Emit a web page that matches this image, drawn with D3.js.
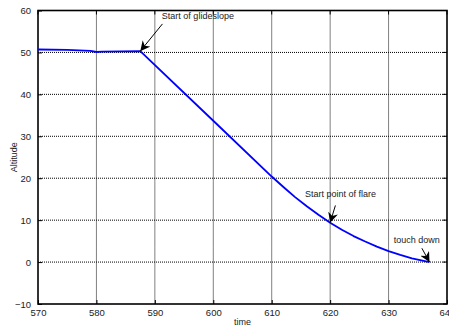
<!DOCTYPE html>
<html>
<head>
<meta charset="utf-8">
<script src="https://cdn.jsdelivr.net/npm/d3@7"></script>
<style>
  html, body { margin: 0; padding: 0; background: #fff; }
  svg { display: block; font-family: Arial, "Liberation Sans", Helvetica, sans-serif; }
</style>
</head>
<body>
<svg id="chart" width="449" height="328"></svg>
<script>
// Altitude profile of the landing: level flight, glideslope, then flare to touch down
const times     = [570, 575, 579, 580, 581, 587.5, 600, 610, 612, 614, 616, 618, 620, 622, 624, 626, 628, 630, 632, 634, 636, 637];
const altitudes = [50.7, 50.6, 50.35, 50.1, 50.2, 50.3, 33.7, 20.4, 17.9, 15.5, 13.3, 11.3, 9.4, 7.7, 6.2, 4.9, 3.7, 2.6, 1.7, 0.9, 0.3, 0.0];

const xTicks = [570, 580, 590, 600, 610, 620, 630, 640];
const yTicks = [-10, 0, 10, 20, 30, 40, 50, 60];

// Notes: label text, label anchor (time, altitude), arrow tail and tip in data units
const noteText  = ["Start of glideslope", "Start point of flare", "touch down"];
const noteLabel = [[591.2, 58.0], [615.7, 15.5], [630.9, 4.5]];
const noteTail  = [[591.3, 56.8], [620.9, 13.5], [635.7, 3.3]];
const noteTip   = [[587.5, 50.3], [620.0, 9.4], [637.0, 0.0]];

const svg = d3.select("#chart");
const m = { left: 38, top: 10.5, right: 447, bottom: 304 };

const x = d3.scaleLinear().domain([570, 640]).range([m.left, m.right]);
const y = d3.scaleLinear().domain([-10, 60]).range([m.bottom, m.top]);

// dotted grid
const grid = svg.append("g");
grid.selectAll("line.gx").data(xTicks.slice(1, -1)).join("line")
  .attr("x1", d => x(d)).attr("x2", d => x(d))
  .attr("y1", m.top).attr("y2", m.bottom)
  .attr("stroke", "#000").attr("stroke-width", 1).attr("stroke-dasharray", "1,1");
grid.selectAll("line.gy").data(yTicks.slice(1, -1)).join("line")
  .attr("y1", d => y(d)).attr("y2", d => y(d))
  .attr("x1", m.left).attr("x2", m.right)
  .attr("stroke", "#000").attr("stroke-width", 1).attr("stroke-dasharray", "1,1");

// axes with inward ticks
const xAxis = d3.axisBottom(x).tickValues(xTicks).tickSize(-4).tickPadding(8).tickFormat(d3.format("d"));
const yAxis = d3.axisLeft(y).tickValues(yTicks).tickSize(-4).tickPadding(7).tickFormat(d3.format("d"));

const gx = svg.append("g").attr("transform", `translate(0,${m.bottom})`).call(xAxis);
const gy = svg.append("g").attr("transform", `translate(${m.left},0)`).call(yAxis);
[gx, gy].forEach(g => {
  g.select(".domain").remove();
  g.selectAll(".tick line").attr("stroke", "#000");
  g.selectAll(".tick text").attr("font-size", 9.5).attr("fill", "#222")
    .attr("font-family", "Arial, 'Liberation Sans', sans-serif");
});
gx.selectAll(".tick text").attr("dy", "0.45em");
// top and right ticks
svg.append("g").selectAll("line").data(xTicks).join("line")
  .attr("x1", d => x(d)).attr("x2", d => x(d)).attr("y1", m.top).attr("y2", m.top + 4).attr("stroke", "#000");
svg.append("g").selectAll("line").data(yTicks).join("line")
  .attr("y1", d => y(d)).attr("y2", d => y(d)).attr("x1", m.right).attr("x2", m.right - 4).attr("stroke", "#000");

// frame
svg.append("rect")
  .attr("x", m.left).attr("y", m.top)
  .attr("width", m.right - m.left).attr("height", m.bottom - m.top)
  .attr("fill", "none").attr("stroke", "#000").attr("stroke-width", 1.6);

// axis titles
svg.append("text").attr("x", (m.left + m.right) / 2).attr("y", 325)
  .attr("text-anchor", "middle").attr("font-size", 9).attr("fill", "#222").text("time");
svg.append("text").attr("transform", `translate(17,${(m.top + m.bottom) / 2}) rotate(-90)`)
  .attr("text-anchor", "middle").attr("font-size", 9).attr("fill", "#222").text("Altitude");

// altitude trace
const line = d3.line().x((d, i) => x(times[i])).y(d => y(d));
svg.append("path").datum(altitudes)
  .attr("d", line)
  .attr("fill", "none").attr("stroke", "#0000ff").attr("stroke-width", 1.8)
  .attr("stroke-linejoin", "round");

// arrow head marker
svg.append("defs").append("marker")
  .attr("id", "head").attr("viewBox", "0 0 10 10")
  .attr("refX", 10).attr("refY", 5)
  .attr("markerWidth", 10).attr("markerHeight", 10)
  .attr("markerUnits", "userSpaceOnUse")
  .attr("orient", "auto")
  .append("path").attr("d", "M0,0 L10,5 L0,10 L3,5 Z").attr("fill", "#000");

// annotations
const notes = svg.append("g");
noteText.forEach((t, i) => {
  notes.append("text")
    .attr("x", x(noteLabel[i][0])).attr("y", y(noteLabel[i][1]))
    .attr("font-size", 9).attr("fill", "#222").text(t);
  notes.append("line")
    .attr("x1", x(noteTail[i][0])).attr("y1", y(noteTail[i][1]))
    .attr("x2", x(noteTip[i][0])).attr("y2", y(noteTip[i][1]))
    .attr("stroke", "#000").attr("stroke-width", 1)
    .attr("marker-end", "url(#head)");
});
</script>
</body>
</html>
